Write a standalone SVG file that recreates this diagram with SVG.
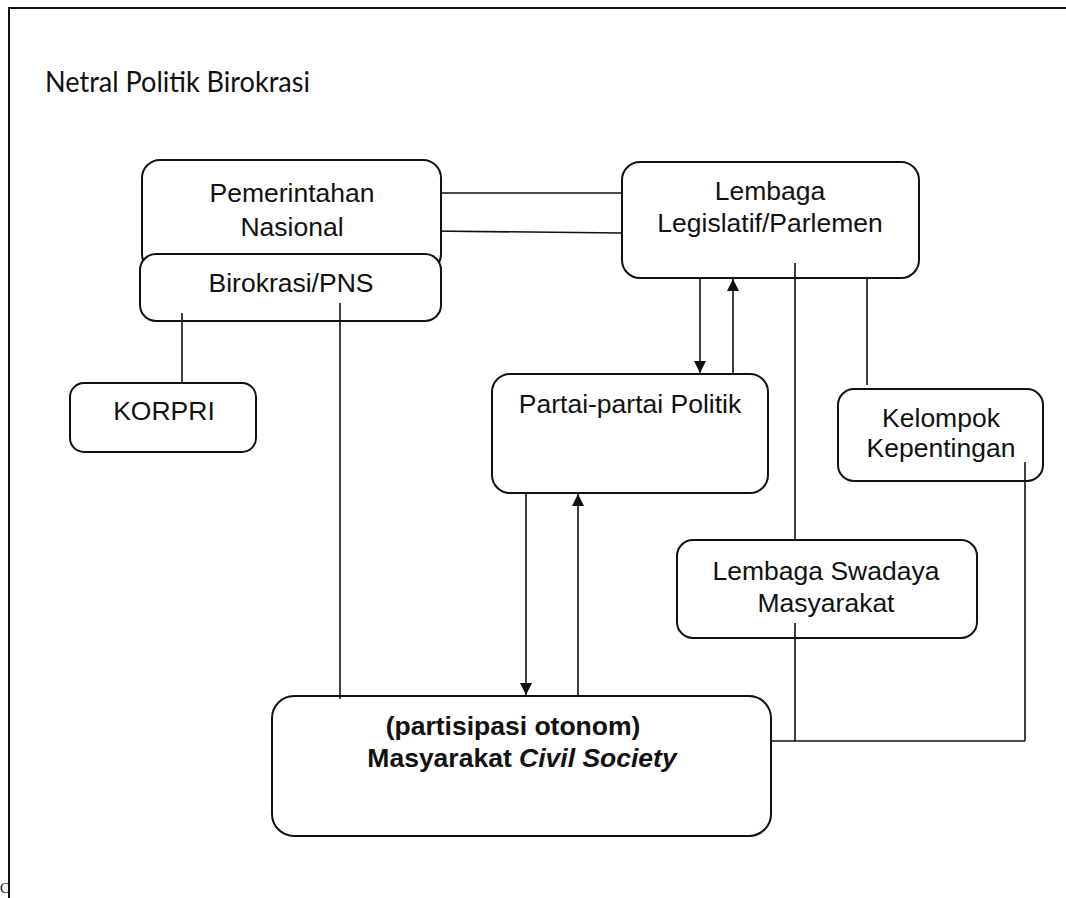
<svg xmlns="http://www.w3.org/2000/svg" width="1066" height="898" viewBox="0 0 1066 898">
<defs>
<style>
.box{fill:#fff;stroke:#111;stroke-width:2}
.ln{fill:none;stroke:#111;stroke-width:1.6}
.t{font-family:"Liberation Sans",Arial,sans-serif;font-size:26.5px;fill:#111;text-anchor:middle}
.b{font-weight:bold}
</style>
<marker id="ah" viewBox="0 0 10 10" refX="10" refY="5" markerWidth="12" markerHeight="16" markerUnits="userSpaceOnUse" orient="auto">
<path d="M0,0 L10,5 L0,10 Z" fill="#111"/>
</marker>
</defs>
<rect width="1066" height="898" fill="#fff"/>
<g id="frame">
<path d="M9,898 V8 H1066" fill="none" stroke="#111" stroke-width="2"/>
<text x="0" y="893" font-family="Liberation Serif,serif" font-size="14" fill="#111">C</text>
</g>
<g id="title">
<text x="45" y="92" font-family="Lato,'Open Sans',sans-serif" font-size="28" fill="#111" textLength="265" lengthAdjust="spacingAndGlyphs">Netral Politik Birokrasi</text>
</g>
<g id="connectors">
<line class="ln" x1="430" y1="193" x2="622" y2="193"/>
<line class="ln" x1="430" y1="231" x2="622" y2="233"/>
<line class="ln" x1="182" y1="313" x2="182" y2="383"/>
<line class="ln" x1="340" y1="303" x2="340" y2="699"/>
<line class="ln" x1="700" y1="279" x2="700" y2="373" marker-end="url(#ah)"/>
<line class="ln" x1="733" y1="374" x2="733" y2="279" marker-end="url(#ah)"/>
<line class="ln" x1="795" y1="263" x2="795" y2="540"/>
<line class="ln" x1="867" y1="279" x2="867" y2="385"/>
<line class="ln" x1="1025" y1="462" x2="1025" y2="741"/>
<line class="ln" x1="795" y1="623" x2="795" y2="741"/>
<line class="ln" x1="771" y1="741" x2="1025" y2="741"/>
<line class="ln" x1="526" y1="494" x2="526" y2="695" marker-end="url(#ah)"/>
<line class="ln" x1="578" y1="696" x2="578" y2="494" marker-end="url(#ah)"/>
</g>
<g id="pemerintahan">
<rect class="box" x="142" y="160" width="299" height="112" rx="18"/>
<text class="t" x="292" y="202">Pemerintahan</text>
<text class="t" x="292" y="236">Nasional</text>
</g>
<g id="birokrasi">
<rect class="box" x="140" y="254" width="301" height="67" rx="16"/>
<text class="t" x="291" y="292">Birokrasi/PNS</text>
<line class="ln" x1="182" y1="313" x2="182" y2="321"/>
<line class="ln" x1="340" y1="303" x2="340" y2="321"/>
</g>
<g id="lembaga">
<rect class="box" x="622" y="162" width="297" height="116" rx="18"/>
<text class="t" x="770" y="200">Lembaga</text>
<text class="t" x="770" y="232">Legislatif/Parlemen</text>
<line class="ln" x1="795" y1="263" x2="795" y2="278"/>
</g>
<g id="korpri">
<rect class="box" x="70" y="383" width="186" height="69" rx="14"/>
<text class="t" x="164" y="420">KORPRI</text>
</g>
<g id="partai">
<rect class="box" x="492" y="374" width="276" height="119" rx="18"/>
<text class="t" x="630" y="413">Partai-partai Politik</text>
</g>
<g id="kelompok">
<rect class="box" x="838" y="389" width="205" height="92" rx="16"/>
<text class="t" x="941" y="427">Kelompok</text>
<text class="t" x="941" y="457">Kepentingan</text>
<line class="ln" x1="1025" y1="462" x2="1025" y2="481"/>
</g>
<g id="lsm">
<rect class="box" x="677" y="540" width="300" height="98" rx="16"/>
<text class="t" x="826" y="580">Lembaga Swadaya</text>
<text class="t" x="826" y="612">Masyarakat</text>
<line class="ln" x1="795" y1="623" x2="795" y2="638"/>
</g>
<g id="masyarakat">
<rect class="box" x="272" y="696" width="499" height="140" rx="22"/>
<text class="t b" x="513" y="735" font-size="25">(partisipasi otonom)</text>
<text class="t b" x="522" y="767" font-size="26">Masyarakat <tspan font-style="italic">Civil Society</tspan></text>
<line class="ln" x1="340" y1="696" x2="340" y2="699"/>
</g>
</svg>
